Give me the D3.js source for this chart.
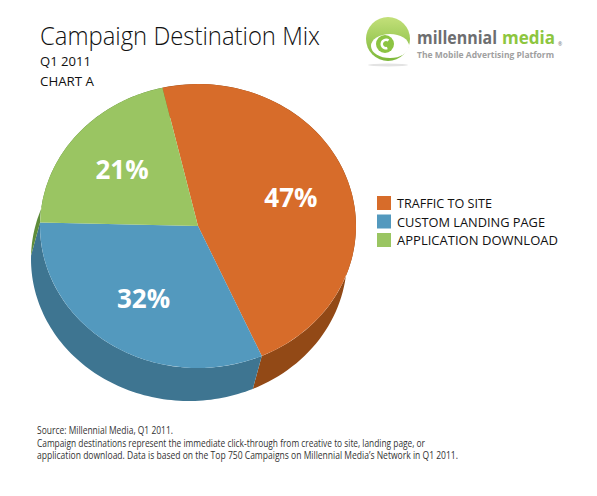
<!DOCTYPE html>
<html>
<head>
<meta charset="utf-8">
<script src="https://cdn.jsdelivr.net/npm/d3@7"></script>
<style>
  body { margin: 0; background: #fff; }
  text { font-family: "Open Sans", "Noto Sans", sans-serif; }
</style>
</head>
<body>
<div id="chart"></div>
<script>
// Chart data
const categories = ["TRAFFIC TO SITE", "CUSTOM LANDING PAGE", "APPLICATION DOWNLOAD"];
const shares = [47, 32, 21];
const topColors = ["#d76c2a", "#5399be", "#9ac562"];
const sideColors = ["#924916", "#3e7591", "#5e8c3a"];
const footerLines = [
    "Source: Millennial Media, Q1 2011.",
    "Campaign destinations represent the immediate click-through from creative to site, landing page, or",
    "application download. Data is based on the Top 750 Campaigns on Millennial Media\u2019s Network in Q1 2011."
];

const width = 597, height = 496;

const svg = d3.select("#chart")
    .append("svg")
    .attr("width", width)
    .attr("height", height);

// Title block
svg.append("text").attr("x", 40).attr("y", 45)
    .attr("font-size", 25).attr("font-weight", 300).attr("fill", "#111")
    .attr("textLength", 280).attr("lengthAdjust", "spacingAndGlyphs")
    .text("Campaign Destination Mix");
svg.append("text").attr("x", 40).attr("y", 66)
    .attr("font-size", 13).attr("fill", "#111")
    .attr("textLength", 51).attr("lengthAdjust", "spacingAndGlyphs")
    .text("Q1 2011");
svg.append("text").attr("x", 40).attr("y", 86)
    .attr("font-size", 13).attr("fill", "#111")
    .attr("textLength", 54).attr("lengthAdjust", "spacingAndGlyphs")
    .text("CHART A");

// Pie geometry (tilted ellipse with depth)
const cx = 198, cy = 226, rx = 158, ry = 142;
const depthX = -9, depthY = 33;
const start = -13 * Math.PI / 180;
const R = 100;

const pie = d3.pie().sort(null).startAngle(start).endAngle(start + 2 * Math.PI);
const slices = pie(shares);

// project an angle on the ellipse, k = radius fraction
function proj(a, k = 1, off = 0) {
    return [cx + rx * k * Math.sin(a) + depthX * off, cy - ry * k * Math.cos(a) + depthY * off];
}

// Sides first
const sideLine = d3.line().curve(d3.curveLinearClosed);
const sides = svg.append("g");
slices.forEach((s, i) => {
    const n = 80;
    const angles = d3.range(n + 1).map(j => s.startAngle + (s.endAngle - s.startAngle) * j / n);
    const pts = angles.map(a => proj(a))
        .concat(angles.slice().reverse().map(a => proj(a, 1, 1)));
    sides.append("path")
        .attr("d", sideLine(pts))
        .attr("fill", sideColors[i]);
});

// Top faces
const arc = d3.arc().innerRadius(0).outerRadius(R);
svg.append("g")
    .attr("transform", `translate(${cx},${cy}) scale(${rx / R},${ry / R})`)
    .selectAll("path")
    .data(slices)
    .enter().append("path")
    .attr("d", arc)
    .attr("fill", (d, i) => topColors[i]);

// Percent labels
svg.selectAll(".pct")
    .data(slices)
    .enter().append("text")
    .attr("class", "pct")
    .attr("transform", d => {
        const p = proj((d.startAngle + d.endAngle) / 2, 0.62);
        return `translate(${p[0]},${p[1]})`;
    })
    .attr("dy", "0.35em")
    .attr("text-anchor", "middle")
    .attr("font-size", 26)
    .attr("font-weight", 700)
    .attr("fill", "#fff")
    .text(d => d.data + "%");

// Legend
const legend = svg.selectAll(".legend")
    .data(categories)
    .enter().append("g")
    .attr("class", "legend")
    .attr("transform", (d, i) => `translate(377,${196 + i * 18.5})`);

legend.append("rect")
    .attr("width", 14)
    .attr("height", 14)
    .attr("fill", (d, i) => topColors[i]);

const legendWidths = [95, 148, 161];
legend.append("text")
    .attr("x", 20)
    .attr("y", 12)
    .attr("font-size", 13)
    .attr("fill", "#111")
    .attr("textLength", (d, i) => legendWidths[i])
    .attr("lengthAdjust", "spacingAndGlyphs")
    .text(d => d);

// Footer notes
const footerWidths = [136, 388, 421];
svg.selectAll(".foot")
    .data(footerLines)
    .enter().append("text")
    .attr("class", "foot")
    .attr("x", 37)
    .attr("y", (d, i) => 434 + i * 12.5)
    .attr("font-size", 10)
    .attr("fill", "#333")
    .attr("textLength", (d, i) => footerWidths[i])
    .attr("lengthAdjust", "spacingAndGlyphs")
    .text(d => d);

// Logo
const logo = svg.append("g");
const grad = svg.append("defs").append("linearGradient")
    .attr("id", "lg").attr("x1", 0).attr("y1", 0).attr("x2", 0).attr("y2", 1);
grad.append("stop").attr("offset", "0%").attr("stop-color", "#c3e07a");
grad.append("stop").attr("offset", "100%").attr("stop-color", "#7db83a");

logo.append("ellipse").attr("cx", 388).attr("cy", 65).attr("rx", 20).attr("ry", 1.5).attr("fill", "#e3e3e3");
logo.append("circle").attr("cx", 388).attr("cy", 39).attr("r", 22).attr("fill", "url(#lg)");
logo.append("ellipse").attr("cx", 390).attr("cy", 46).attr("rx", 19).attr("ry", 12).attr("fill", "#fff");
logo.append("circle").attr("cx", 385).attr("cy", 44).attr("r", 9).attr("fill", "#8cc443");
logo.append("path")
    .attr("d", d3.arc().innerRadius(3).outerRadius(5.5).startAngle(Math.PI * 0.9).endAngle(Math.PI * 2.2)())
    .attr("transform", "translate(386,44)")
    .attr("fill", "#fff");

logo.append("text")
    .attr("x", 417).attr("y", 44)
    .attr("font-size", 18).attr("font-weight", 700).attr("fill", "#6d6e70")
    .attr("textLength", 80).attr("lengthAdjust", "spacingAndGlyphs")
    .text("millennial");
logo.append("text")
    .attr("x", 502).attr("y", 44)
    .attr("font-size", 18).attr("font-weight", 700).attr("fill", "#8dc63f")
    .attr("textLength", 53).attr("lengthAdjust", "spacingAndGlyphs")
    .text("media");

logo.append("text")
    .attr("x", 558).attr("y", 46)
    .attr("font-size", 5).attr("fill", "#6d6e70")
    .text("\u00ae");

logo.append("text")
    .attr("x", 417).attr("y", 58)
    .attr("font-size", 8).attr("font-weight", 700).attr("fill", "#a0a0a0")
    .attr("textLength", 137).attr("lengthAdjust", "spacingAndGlyphs")
    .text("The Mobile Advertising Platform");
</script>
</body>
</html>
